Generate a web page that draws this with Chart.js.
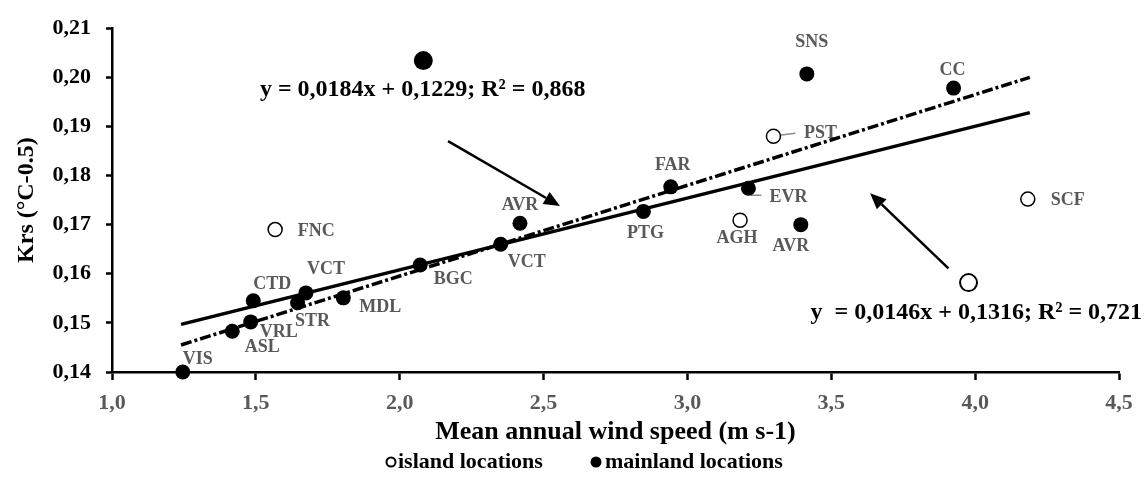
<!DOCTYPE html>
<html>
<head>
<meta charset="utf-8">
<script src="https://cdn.jsdelivr.net/npm/chart.js@4.4.0/dist/chart.umd.min.js"></script>
<style>
    body { margin: 0; background: #fff; }
    #wrap { width: 1148px; height: 477px; }
</style>
</head>
<body>
<div id="wrap"><canvas id="myChart" width="1148" height="477"></canvas></div>
<script>
// island stations (open markers)
var islandNames = ['FNC', 'AGH', 'PST', 'SCF'];
var islandWind = [1.567, 3.183, 3.299, 4.183];
var islandKrs = [0.1690, 0.1709, 0.1880, 0.1752];

// mainland stations (filled markers)
var mainlandNames = ['VIS', 'ASL', 'VRL', 'CTD', 'STR', 'VCT', 'MDL', 'BGC', 'VCT', 'AVR', 'PTG', 'FAR', 'EVR', 'AVR', 'SNS', 'CC'];
var mainlandWind = [1.246, 1.418, 1.482, 1.491, 1.645, 1.674, 1.804, 2.071, 2.351, 2.418, 2.847, 2.942, 3.212, 3.394, 3.415, 3.925];
var mainlandKrs = [0.1400, 0.1483, 0.1502, 0.1545, 0.1541, 0.1561, 0.1551, 0.1618, 0.1660, 0.1703, 0.1727, 0.1777, 0.1774, 0.1700, 0.2007, 0.1978];

// the two big unlabelled markers
var islandBigWind = [3.977];
var islandBigKrs = [0.1582];
var mainlandBigWind = [2.082];
var mainlandBigKrs = [0.2034];

// trend lines, end points
var trendWind = [1.24, 4.19];
var trendSolidKrs = [0.1497, 0.1928];
var trendDashedKrs = [0.1455, 0.2000];

var eqDashed = 'y = 0,0184x + 0,1229; R\u00b2 = 0,868';
var eqSolid = 'y  = 0,0146x + 0,1316; R\u00b2 = 0,721';

var xTicks = [1.0, 1.5, 2.0, 2.5, 3.0, 3.5, 4.0, 4.5];
var yTicks = [0.14, 0.15, 0.16, 0.17, 0.18, 0.19, 0.20, 0.21];

var legendLabels = ['island locations', 'mainland locations'];

// label placement (pixels from the marker)
var islandLabelOff = [[41, 2], [-3, 18], [47, -3], [40, 1]];
var mainlandLabelOff = [[15, -13], [30, 16], [28, 10], [19, -16], [15, 19], [20, -24], [37, 10], [33, 14], [26, 18], [0, -18], [2, 22], [2, -21], [40, 9], [-10, 22], [5, -32], [-1, -18]];

var serif = '"Liberation Serif", "Times New Roman", serif';
var grey = '#595959';

function toPoints(xs, ys) {
    var out = [];
    for (var i = 0; i < xs.length; i++) {
        out.push({ x: xs[i], y: ys[i] });
    }
    return out;
}

function comma(v, d) {
    return v.toFixed(d).replace('.', ',');
}

function drawArrow(ctx, x1, y1, x2, y2) {
    var ang = Math.atan2(y2 - y1, x2 - x1);
    var len = 16, half = 7;
    var bx = x2 - len * Math.cos(ang), by = y2 - len * Math.sin(ang);
    ctx.strokeStyle = '#000';
    ctx.lineWidth = 2.5;
    ctx.beginPath();
    ctx.moveTo(x1, y1);
    ctx.lineTo(bx, by);
    ctx.stroke();
    ctx.fillStyle = '#000';
    ctx.beginPath();
    ctx.moveTo(x2, y2);
    ctx.lineTo(bx + half * Math.sin(ang), by - half * Math.cos(ang));
    ctx.lineTo(bx - half * Math.sin(ang), by + half * Math.cos(ang));
    ctx.closePath();
    ctx.fill();
}

var extras = {
    id: 'extras',
    beforeDatasetsDraw: function (chart) {
        var ctx = chart.ctx;
        var xs = chart.scales.x, ys = chart.scales.y;
        ctx.save();
        ctx.font = 'bold 18px ' + serif;
        ctx.fillStyle = grey;
        ctx.textAlign = 'center';
        ctx.textBaseline = 'middle';
        for (var i = 0; i < islandNames.length; i++) {
            var px = xs.getPixelForValue(islandWind[i]), py = ys.getPixelForValue(islandKrs[i]);
            ctx.fillText(islandNames[i], px + islandLabelOff[i][0], py + islandLabelOff[i][1]);
        }
        for (var j = 0; j < mainlandNames.length; j++) {
            var qx = xs.getPixelForValue(mainlandWind[j]), qy = ys.getPixelForValue(mainlandKrs[j]);
            ctx.fillText(mainlandNames[j], qx + mainlandLabelOff[j][0], qy + mainlandLabelOff[j][1]);
        }
        // leader lines for PST and EVR
        ctx.strokeStyle = '#8c8c8c';
        ctx.lineWidth = 1.5;
        var p = [xs.getPixelForValue(islandWind[2]), ys.getPixelForValue(islandKrs[2])];
        ctx.beginPath();
        ctx.moveTo(p[0] + 6, p[1] - 1);
        ctx.lineTo(p[0] + 22, p[1] - 3);
        ctx.stroke();
        var e = [xs.getPixelForValue(mainlandWind[12]), ys.getPixelForValue(mainlandKrs[12])];
        ctx.beginPath();
        ctx.moveTo(e[0] + 3, e[1]);
        ctx.lineTo(e[0] + 3, e[1] + 7);
        ctx.lineTo(e[0] + 13, e[1] + 7);
        ctx.stroke();
        ctx.restore();
    },
    afterDraw: function (chart) {
        var ctx = chart.ctx;
        var xs = chart.scales.x, ys = chart.scales.y;
        ctx.save();
        drawArrow(ctx, xs.getPixelForValue(2.168), ys.getPixelForValue(0.1870), xs.getPixelForValue(2.557), ys.getPixelForValue(0.1738));
        drawArrow(ctx, xs.getPixelForValue(3.907), ys.getPixelForValue(0.1611), xs.getPixelForValue(3.635), ys.getPixelForValue(0.1764));

        ctx.font = 'bold 24px ' + serif;
        ctx.fillStyle = '#000';
        ctx.textAlign = 'left';
        ctx.textBaseline = 'middle';
        ctx.fillText(eqDashed, xs.getPixelForValue(1.514), ys.getPixelForValue(0.1975));
        ctx.fillText(eqSolid, xs.getPixelForValue(3.428), ys.getPixelForValue(0.1521));

        // legend
        var ly = 462;
        ctx.font = 'bold 22px ' + serif;
        ctx.lineWidth = 2;
        ctx.strokeStyle = '#000';
        ctx.fillStyle = '#fff';
        ctx.beginPath();
        ctx.arc(391, ly, 4.5, 0, Math.PI * 2);
        ctx.fill();
        ctx.stroke();
        ctx.fillStyle = '#000';
        ctx.beginPath();
        ctx.arc(596, ly, 5.5, 0, Math.PI * 2);
        ctx.fill();
        ctx.fillText(legendLabels[0], 398, ly);
        ctx.fillText(legendLabels[1], 605, ly);
        ctx.restore();
    }
};

var ctx = document.getElementById('myChart');
var chart = new Chart(ctx, {
    type: 'scatter',
    data: {
        datasets: [{
            label: 'trend mainland',
            data: toPoints(trendWind, trendDashedKrs),
            showLine: true,
            borderColor: '#000',
            borderWidth: 3.5,
            borderDash: [11, 3, 3, 3],
            pointRadius: 0,
            order: 0
        }, {
            label: 'trend all',
            data: toPoints(trendWind, trendSolidKrs),
            showLine: true,
            borderColor: '#000',
            borderWidth: 3.5,
            pointRadius: 0,
            order: 0
        }, {
            label: 'island locations',
            data: toPoints(islandWind, islandKrs),
            pointRadius: 7,
            pointBackgroundColor: '#fff',
            pointBorderColor: '#000',
            pointBorderWidth: 1.5,
            clip: false,
            order: 1
        }, {
            label: 'mainland locations',
            data: toPoints(mainlandWind, mainlandKrs),
            pointRadius: 7.5,
            pointBackgroundColor: '#000',
            pointBorderColor: '#000',
            pointBorderWidth: 0,
            clip: false,
            order: 1
        }, {
            label: 'island big',
            data: toPoints(islandBigWind, islandBigKrs),
            pointRadius: 8.5,
            pointBackgroundColor: '#fff',
            pointBorderColor: '#000',
            pointBorderWidth: 2,
            clip: false,
            order: 1
        }, {
            label: 'mainland big',
            data: toPoints(mainlandBigWind, mainlandBigKrs),
            pointRadius: 9.5,
            pointBackgroundColor: '#000',
            pointBorderColor: '#000',
            pointBorderWidth: 0,
            clip: false,
            order: 1
        }]
    },
    options: {
        responsive: false,
        animation: false,
        layout: { padding: { top: 19, right: 29, left: 0, bottom: 0 } },
        plugins: {
            legend: { display: false },
            tooltip: { enabled: false }
        },
        scales: {
            x: {
                type: 'linear',
                min: 1.0,
                max: 4.5,
                afterFit: function (scale) { scale.height = 105; },
                afterBuildTicks: function (scale) {
                    scale.ticks = xTicks.map(function (v) { return { value: v }; });
                },
                border: { color: '#000', width: 2.5 },
                grid: { drawOnChartArea: false, drawTicks: true, tickLength: 8, tickWidth: 2.5, tickColor: '#000' },
                ticks: {
                    color: grey,
                    padding: 10,
                    font: { family: serif, size: 22, weight: 'bold' },
                    callback: function (v) { return comma(v, 1); }
                },
                title: {
                    display: true,
                    text: 'Mean annual wind speed (m s-1)',
                    color: '#000',
                    font: { family: serif, size: 26, weight: 'bold' },
                    padding: { top: 0, bottom: 29 }
                }
            },
            y: {
                type: 'linear',
                min: 0.14,
                max: 0.21,
                afterFit: function (scale) { scale.width = 112; },
                afterBuildTicks: function (scale) {
                    scale.ticks = yTicks.map(function (v) { return { value: v }; });
                },
                border: { color: '#000', width: 2.5 },
                grid: { drawOnChartArea: false, drawTicks: true, tickLength: 6, tickWidth: 2.5, tickColor: '#000' },
                ticks: {
                    color: '#000',
                    padding: 15,
                    font: { family: serif, size: 22, weight: 'bold' },
                    callback: function (v) { return comma(v, 2); }
                },
                title: {
                    display: true,
                    text: 'Krs (\u00b0C-0.5)',
                    color: '#000',
                    font: { family: serif, size: 24, weight: 'bold' },
                    padding: { top: 12, bottom: 0 }
                }
            }
        }
    },
    plugins: [extras]
});
</script>
</body>
</html>
